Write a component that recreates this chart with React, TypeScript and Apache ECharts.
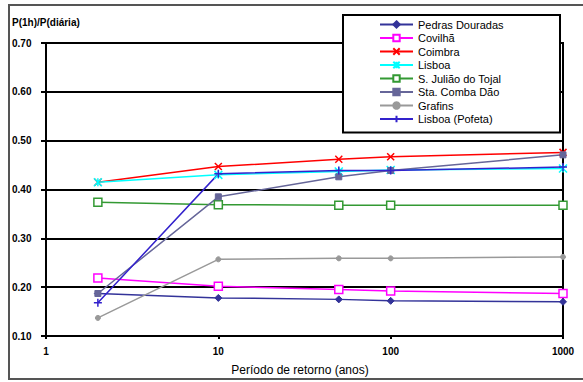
import React, { useEffect, useRef } from "react";
import * as echarts from "echarts";

const returnPeriods = [2, 10, 50, 100, 1000];
const pedrasDouradas = [0.187, 0.178, 0.175, 0.172, 0.17];
const covilha = [0.219, 0.202, 0.195, 0.192, 0.187];
const coimbra = [0.415, 0.447, 0.462, 0.467, 0.476];
const lisboa = [0.415, 0.43, 0.437, 0.44, 0.443];
const sJuliaoTojal = [0.374, 0.369, 0.368, 0.368, 0.368];
const staCombaDao = [0.187, 0.385, 0.426, 0.439, 0.471];
const grafins = [0.137, 0.257, 0.259, 0.259, 0.262];
const lisboaPofeta = [0.168, 0.432, 0.439, 0.439, 0.446];

const seriesNames = [
  "Pedras Douradas",
  "Covilhã",
  "Coimbra",
  "Lisboa",
  "S. Julião do Tojal",
  "Sta. Comba Dão",
  "Grafins",
  "Lisboa (Pofeta)",
];
const yTitle = "P(1h)/P(diária)";
const xTitle = "Período de retorno (anos)";

const X_PATH = "path://M0,0 L10,10 M10,0 L0,10";
const PLUS_PATH = "path://M5,0 L5,10 M0,5 L10,5";
const STAR_PATH = "path://M0,0 L10,10 M10,0 L0,10 M5,0 L5,10";

export default function App() {
  const ref = useRef<HTMLDivElement>(null);
  useEffect(() => {
    if (!ref.current) return;
    const chart = echarts.init(ref.current, null, { renderer: "svg" });
    const font = "Liberation Sans, Arial, sans-serif";
    const mk = (
      name: string,
      values: number[],
      color: string,
      symbol: string,
      size: number,
      stroke: boolean,
      empty = false
    ) => ({
      name,
      type: "line",
      data: returnPeriods.map((x, i) => [x, values[i]]),
      symbol,
      symbolSize: size,
      lineStyle: { color, width: 1.5 },
      itemStyle: stroke
        ? { color: empty ? "#fff" : color, borderColor: color, borderWidth: 1.5 }
        : { color, borderColor: color, borderWidth: 1 },
      color,
      z: 3,
    });
    const series = [
      mk(seriesNames[0], pedrasDouradas, "#333399", "diamond", 7, false),
      mk(seriesNames[1], covilha, "#ff00ff", "rect", 8, true, true),
      mk(seriesNames[2], coimbra, "#ff0000", X_PATH, 7, true),
      mk(seriesNames[3], lisboa, "#00ffff", STAR_PATH, 8, true),
      mk(seriesNames[4], sJuliaoTojal, "#339933", "rect", 8, true, true),
      mk(seriesNames[5], staCombaDao, "#666699", "rect", 6, false),
      mk(seriesNames[6], grafins, "#999999", "circle", 5, false),
      mk(seriesNames[7], lisboaPofeta, "#3322cc", PLUS_PATH, 8, true),
    ];
    chart.setOption({
      animation: false,
      backgroundColor: "#fff",
      textStyle: { fontFamily: font },
      grid: {
        left: 46,
        right: 20,
        top: 43,
        bottom: 46,
        show: true,
        borderColor: "#000",
        borderWidth: 2,
      },
      xAxis: {
        type: "log",
        logBase: 10,
        min: 1,
        max: 1000,
        axisLine: { lineStyle: { color: "#000", width: 2 } },
        axisTick: { show: true, length: 3, lineStyle: { color: "#000", width: 2 } },
        minorTick: { show: false },
        splitLine: { show: false },
        axisLabel: {
          color: "#000",
          fontSize: 10,
          fontWeight: "bold",
          margin: 10,
          fontFamily: font,
          formatter: (v: number) => String(Math.round(v)),
        },
      },
      yAxis: {
        type: "value",
        min: 0.1,
        max: 0.7,
        interval: 0.1,
        axisLine: { show: true, lineStyle: { color: "#000", width: 2 } },
        axisTick: { show: true, length: 5, lineStyle: { color: "#000", width: 2 } },
        splitLine: { lineStyle: { color: "#000", width: 2 } },
        axisLabel: {
          color: "#000",
          fontSize: 10,
          fontWeight: "bold",
          align: "left",
          margin: 34,
          fontFamily: font,
          formatter: (v: number) => v.toFixed(2),
        },
      },
      legend: {
        orient: "vertical",
        left: 343,
        top: 15,
        padding: [4, 10, 8, 36],
        itemWidth: 33,
        itemHeight: 8,
        itemGap: 2.5,
        z: 10,
        backgroundColor: "#fff",
        borderColor: "#000",
        borderWidth: 2,
        textStyle: { color: "#000", fontSize: 11, fontFamily: font, lineHeight: 11, width: 132 },
        data: seriesNames,
      },
      graphic: [
        {
          type: "rect",
          shape: { x: 9, y: 5, width: 620, height: 374 },
          style: { fill: "none", stroke: "#555", lineWidth: 2 },
          z: 100,
          silent: true,
        },
        {
          type: "text",
          x: 12,
          y: 22,
          style: {
            text: yTitle,
            fontSize: 10,
            fontWeight: "bold",
            fill: "#000",
            fontFamily: font,
            verticalAlign: "middle",
          },
          z: 100,
        },
        {
          type: "text",
          x: 300,
          y: 370,
          style: {
            text: xTitle,
            fontSize: 12,
            fill: "#000",
            fontFamily: font,
            align: "center",
            verticalAlign: "middle",
          },
          z: 100,
        },
      ],
      series,
    });
    return () => chart.dispose();
  }, []);
  return (
    <div
      ref={ref}
      style={{ position: "fixed", left: 0, top: 0, width: 583, height: 382 }}
    />
  );
}
